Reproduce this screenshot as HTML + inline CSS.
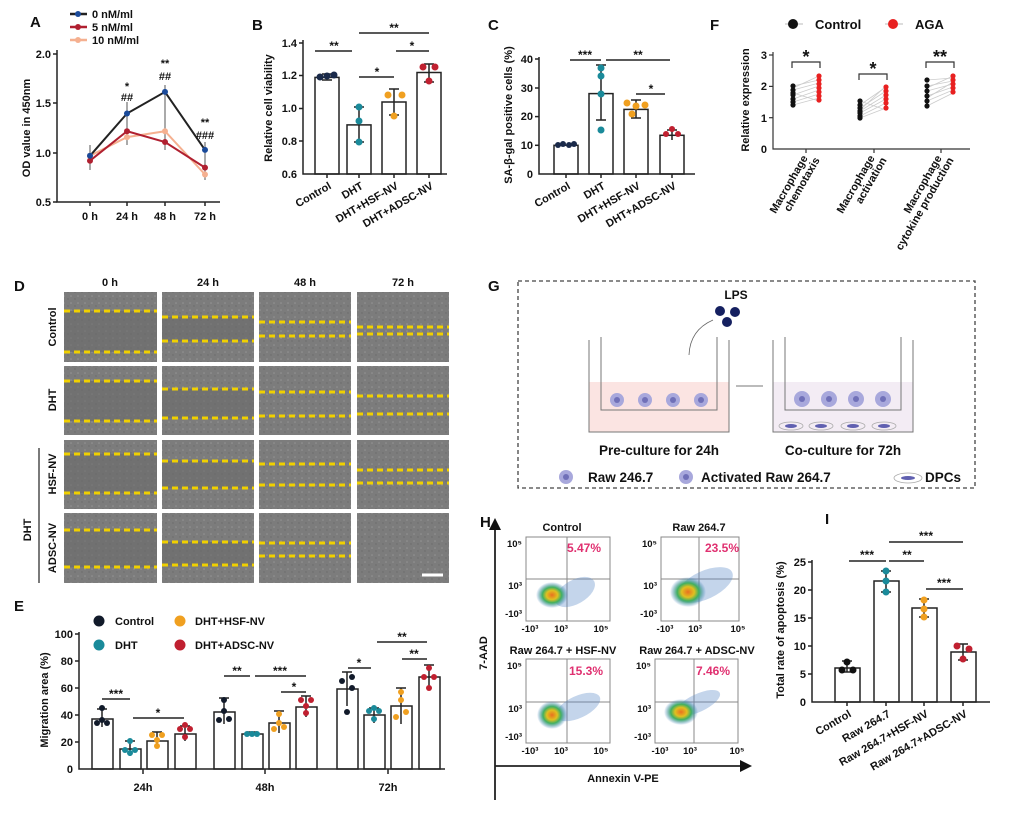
<!DOCTYPE html>
<html><head><meta charset="utf-8"><style>
html,body{margin:0;padding:0;background:#fff}
svg{display:block;font-family:"Liberation Sans",Arial,sans-serif;font-weight:bold}
</style></head><body>
<svg width="1020" height="813" viewBox="0 0 1020 813" xmlns="http://www.w3.org/2000/svg">
<defs>
<pattern id="tex" width="7" height="7" patternUnits="userSpaceOnUse"><rect width="7" height="7" fill="#7c7c7c"/><circle cx="1" cy="2" r="0.8" fill="#959595"/><circle cx="5" cy="5" r="0.7" fill="#6a6a6a"/></pattern>
<radialGradient id="blob"><stop offset="0" stop-color="#e87020"/><stop offset="0.35" stop-color="#e0c020"/><stop offset="0.6" stop-color="#40b060"/><stop offset="1" stop-color="#3070c0" stop-opacity="0"/></radialGradient>
</defs>
<g fill="#111" font-size="12">
<!-- ===== Panel A ===== -->
<text x="30" y="27" font-size="15">A</text>
<g stroke-width="2.5"><line x1="70" y1="14" x2="87" y2="14" stroke="#222"/><line x1="70" y1="27" x2="87" y2="27" stroke="#b02030"/><line x1="70" y1="40" x2="87" y2="40" stroke="#f5b090"/></g>
<circle cx="78" cy="14" r="3" fill="#1a4a9a"/><circle cx="78" cy="27" r="3" fill="#b02030"/><circle cx="78" cy="40" r="3" fill="#f5b090"/>
<text x="92" y="18" font-size="11">0 nM/ml</text><text x="92" y="31" font-size="11">5 nM/ml</text><text x="92" y="44" font-size="11">10 nM/ml</text>
<g stroke="#222" stroke-width="1.5" fill="none"><polyline points="57,50 57,202 220,202"/>
<line x1="53" y1="54" x2="57" y2="54"/><line x1="53" y1="103" x2="57" y2="103"/><line x1="53" y1="153" x2="57" y2="153"/><line x1="53" y1="202" x2="57" y2="202"/>
<line x1="90" y1="202" x2="90" y2="206"/><line x1="127" y1="202" x2="127" y2="206"/><line x1="165" y1="202" x2="165" y2="206"/><line x1="205" y1="202" x2="205" y2="206"/></g>
<g font-size="11" text-anchor="end"><text x="51" y="58">2.0</text><text x="51" y="107">1.5</text><text x="51" y="157">1.0</text><text x="51" y="206">0.5</text></g>
<g font-size="11" text-anchor="middle"><text x="90" y="220">0 h</text><text x="127" y="220">24 h</text><text x="165" y="220">48 h</text><text x="205" y="220">72 h</text></g>
<text transform="translate(30,128) rotate(-90)" text-anchor="middle" font-size="11">OD value in 450nm</text>
<g stroke="#555" stroke-width="1"><line x1="90" y1="145" x2="90" y2="170"/><line x1="127" y1="102" x2="127" y2="145"/><line x1="165" y1="85" x2="165" y2="150"/><line x1="205" y1="142" x2="205" y2="180"/></g>
<polyline points="90,155.8 127,137.1 165,131.2 205,174.5" fill="none" stroke="#f5b090" stroke-width="2"/>
<polyline points="90,160.7 127,131.2 165,142 205,167.6" fill="none" stroke="#b02030" stroke-width="2"/>
<polyline points="90,155.8 127,113.5 165,91.9 205,149.9" fill="none" stroke="#222" stroke-width="2"/>
<g fill="#f5b090"><circle cx="90" cy="155.8" r="3"/><circle cx="127" cy="137.1" r="3"/><circle cx="165" cy="131.2" r="3"/><circle cx="205" cy="174.5" r="3"/></g>
<g fill="#b02030"><circle cx="90" cy="160.7" r="3"/><circle cx="127" cy="131.2" r="3"/><circle cx="165" cy="142" r="3"/><circle cx="205" cy="167.6" r="3"/></g>
<g fill="#1a4a9a"><circle cx="90" cy="155.8" r="3"/><circle cx="127" cy="113.5" r="3"/><circle cx="165" cy="91.9" r="3"/><circle cx="205" cy="149.9" r="3"/></g>
<g text-anchor="middle" font-size="11"><text x="127" y="90">*</text><text x="127" y="101">##</text><text x="165" y="67">**</text><text x="165" y="80">##</text><text x="205" y="126">**</text><text x="205" y="139">###</text></g>

<!-- ===== Panel B ===== -->
<text x="252" y="30" font-size="15">B</text>
<g stroke="#222" stroke-width="1.5" fill="none"><polyline points="303,40 303,174 447,174"/>
<line x1="299" y1="43" x2="303" y2="43"/><line x1="299" y1="75.5" x2="303" y2="75.5"/><line x1="299" y1="108.5" x2="303" y2="108.5"/><line x1="299" y1="141" x2="303" y2="141"/>
<rect x="315" y="77.4" width="24" height="96.6"/><rect x="347" y="124.9" width="24" height="49.1"/><rect x="382" y="102" width="24" height="72"/><rect x="417" y="72.5" width="24" height="101.5"/>
<line x1="327" y1="174" x2="327" y2="178"/><line x1="359" y1="174" x2="359" y2="178"/><line x1="394" y1="174" x2="394" y2="178"/><line x1="429" y1="174" x2="429" y2="178"/>
<path d="M359 107V142M354 107h10M354 142h10M394 89V115M389 89h10M389 115h10M429 64V82M424 64h10M424 82h10M322 74h10M322 80h10"/>
<line x1="315" y1="51" x2="352" y2="51"/><line x1="359" y1="33" x2="429" y2="33"/><line x1="359" y1="77" x2="394" y2="77"/><line x1="396" y1="51" x2="429" y2="51"/></g>
<g font-size="11" text-anchor="end"><text x="297" y="47">1.4</text><text x="297" y="79">1.2</text><text x="297" y="112">1.0</text><text x="297" y="145">0.8</text><text x="297" y="178">0.6</text></g>
<text transform="translate(272,108) rotate(-90)" text-anchor="middle" font-size="11">Relative cell viability</text>
<g font-size="11" text-anchor="end"><text transform="translate(332,188) rotate(-30)">Control</text><text transform="translate(364,188) rotate(-30)">DHT</text><text transform="translate(399,188) rotate(-30)">DHT+HSF-NV</text><text transform="translate(434,188) rotate(-30)">DHT+ADSC-NV</text></g>
<g fill="#1a2a4a"><circle cx="320" cy="77" r="3.5"/><circle cx="327" cy="76" r="3.5"/><circle cx="334" cy="75" r="3.5"/></g>
<g fill="#1a8a9a"><circle cx="359" cy="107" r="3.5"/><circle cx="359" cy="121" r="3.5"/><circle cx="359" cy="142" r="3.5"/></g>
<g fill="#f0a020"><circle cx="388" cy="95" r="3.5"/><circle cx="402" cy="95" r="3.5"/><circle cx="394" cy="116" r="3.5"/></g>
<g fill="#c02030"><circle cx="423" cy="67" r="3.5"/><circle cx="435" cy="67" r="3.5"/><circle cx="429" cy="81" r="3.5"/></g>
<g text-anchor="middle" font-size="12"><text x="334" y="50">**</text><text x="394" y="32">**</text><text x="377" y="76">*</text><text x="412" y="50">*</text></g>

<!-- ===== Panel C ===== -->
<text x="488" y="30" font-size="15">C</text>
<g stroke="#222" stroke-width="1.5" fill="none"><polyline points="539,57 539,174 695,174"/>
<line x1="535" y1="59" x2="539" y2="59"/><line x1="535" y1="88" x2="539" y2="88"/><line x1="535" y1="116.6" x2="539" y2="116.6"/><line x1="535" y1="145.3" x2="539" y2="145.3"/>
<rect x="554" y="145.3" width="24" height="28.7"/><rect x="589" y="93.6" width="24" height="80.4"/><rect x="624" y="109.4" width="24" height="64.6"/><rect x="660" y="135.3" width="24" height="38.7"/>
<line x1="566" y1="174" x2="566" y2="178"/><line x1="601" y1="174" x2="601" y2="178"/><line x1="636" y1="174" x2="636" y2="178"/><line x1="672" y1="174" x2="672" y2="178"/>
<path d="M601 65V120M596 65h10M596 120h10M636 100V118M631 100h10M631 118h10M672 130V140M667 130h10"/>
<line x1="570" y1="60" x2="601" y2="60"/><line x1="606" y1="60" x2="670" y2="60"/><line x1="636" y1="94" x2="665" y2="94"/></g>
<g font-size="11" text-anchor="end"><text x="533" y="63">40</text><text x="533" y="92">30</text><text x="533" y="120">20</text><text x="533" y="149">10</text><text x="533" y="178">0</text></g>
<text transform="translate(512,115) rotate(-90)" text-anchor="middle" font-size="11">SA-β-gal positive cells (%)</text>
<g font-size="11" text-anchor="end"><text transform="translate(571,188) rotate(-30)">Control</text><text transform="translate(606,188) rotate(-30)">DHT</text><text transform="translate(641,188) rotate(-30)">DHT+HSF-NV</text><text transform="translate(677,188) rotate(-30)">DHT+ADSC-NV</text></g>
<g fill="#1a2a4a"><circle cx="558" cy="145" r="3"/><circle cx="563" cy="144" r="3"/><circle cx="569" cy="145" r="3"/><circle cx="574" cy="144" r="3"/></g>
<g fill="#1a8a9a"><circle cx="601" cy="68" r="3.5"/><circle cx="601" cy="76" r="3.5"/><circle cx="601" cy="94" r="3.5"/><circle cx="601" cy="130" r="3.5"/></g>
<g fill="#f0a020"><circle cx="627" cy="103" r="3.5"/><circle cx="645" cy="105" r="3.5"/><circle cx="636" cy="106" r="3.5"/><circle cx="632" cy="114" r="3.5"/></g>
<g fill="#c02030"><circle cx="672" cy="129" r="3"/><circle cx="666" cy="134" r="3"/><circle cx="678" cy="134" r="3"/></g>
<g text-anchor="middle" font-size="12"><text x="585" y="59">***</text><text x="638" y="59">**</text><text x="651" y="93">*</text></g>

<!-- ===== Panel F ===== -->
<text x="710" y="30" font-size="15">F</text>
<line x1="785" y1="24" x2="803" y2="24" stroke="#bbb"/><circle cx="793" cy="24" r="5" fill="#111"/><text x="815" y="29" font-size="13">Control</text>
<line x1="885" y1="24" x2="903" y2="24" stroke="#bbb"/><circle cx="893" cy="24" r="5" fill="#e82020"/><text x="915" y="29" font-size="13">AGA</text>
<g stroke="#333" stroke-width="1.2" fill="none"><polyline points="773,52 773,149 970,149"/>
<line x1="769" y1="55" x2="773" y2="55"/><line x1="769" y1="86.4" x2="773" y2="86.4"/><line x1="769" y1="117.7" x2="773" y2="117.7"/>
<line x1="806" y1="149" x2="806" y2="153"/><line x1="874" y1="149" x2="874" y2="153"/><line x1="941" y1="149" x2="941" y2="153"/>
<path d="M792 68V62H820V68M859 80V74H887V80M926 68V62H954V68"/></g>
<g font-size="11" text-anchor="end"><text x="767" y="59">3</text><text x="767" y="90">2</text><text x="767" y="122">1</text><text x="767" y="153">0</text></g>
<text transform="translate(749,100) rotate(-90)" text-anchor="middle" font-size="11">Relative expression</text>
<g stroke="#ccc" stroke-width="0.8">
<line x1="793" y1="86" x2="819" y2="80"/><line x1="793" y1="90" x2="819" y2="83"/><line x1="793" y1="95" x2="819" y2="86"/><line x1="793" y1="99" x2="819" y2="90"/><line x1="793" y1="102" x2="819" y2="94"/><line x1="793" y1="105" x2="819" y2="98"/><line x1="793" y1="93" x2="819" y2="101"/><line x1="793" y1="88" x2="819" y2="76"/>
<line x1="860" y1="105" x2="886" y2="87"/><line x1="860" y1="108" x2="886" y2="91"/><line x1="860" y1="111" x2="886" y2="95"/><line x1="860" y1="113" x2="886" y2="99"/><line x1="860" y1="116" x2="886" y2="103"/><line x1="860" y1="118" x2="886" y2="108"/><line x1="860" y1="101" x2="886" y2="110"/><line x1="860" y1="110" x2="886" y2="86"/>
<line x1="927" y1="80" x2="953" y2="78"/><line x1="927" y1="86" x2="953" y2="81"/><line x1="927" y1="91" x2="953" y2="84"/><line x1="927" y1="96" x2="953" y2="87"/><line x1="927" y1="101" x2="953" y2="90"/><line x1="927" y1="106" x2="953" y2="93"/><line x1="927" y1="88" x2="953" y2="76"/><line x1="927" y1="98" x2="953" y2="82"/></g>
<g fill="#111"><circle cx="793" cy="86" r="2.6"/><circle cx="793" cy="90" r="2.6"/><circle cx="793" cy="95" r="2.6"/><circle cx="793" cy="99" r="2.6"/><circle cx="793" cy="102" r="2.6"/><circle cx="793" cy="105" r="2.6"/><circle cx="793" cy="93" r="2.6"/>
<circle cx="860" cy="105" r="2.6"/><circle cx="860" cy="108" r="2.6"/><circle cx="860" cy="111" r="2.6"/><circle cx="860" cy="113" r="2.6"/><circle cx="860" cy="116" r="2.6"/><circle cx="860" cy="118" r="2.6"/><circle cx="860" cy="101" r="2.6"/>
<circle cx="927" cy="80" r="2.6"/><circle cx="927" cy="86" r="2.6"/><circle cx="927" cy="91" r="2.6"/><circle cx="927" cy="96" r="2.6"/><circle cx="927" cy="101" r="2.6"/><circle cx="927" cy="106" r="2.6"/></g>
<g fill="#e82020"><circle cx="819" cy="76" r="2.6"/><circle cx="819" cy="80" r="2.6"/><circle cx="819" cy="84" r="2.6"/><circle cx="819" cy="88" r="2.6"/><circle cx="819" cy="92" r="2.6"/><circle cx="819" cy="96" r="2.6"/><circle cx="819" cy="100" r="2.6"/>
<circle cx="886" cy="87" r="2.6"/><circle cx="886" cy="91" r="2.6"/><circle cx="886" cy="95" r="2.6"/><circle cx="886" cy="99" r="2.6"/><circle cx="886" cy="103" r="2.6"/><circle cx="886" cy="108" r="2.6"/>
<circle cx="953" cy="76" r="2.6"/><circle cx="953" cy="80" r="2.6"/><circle cx="953" cy="84" r="2.6"/><circle cx="953" cy="88" r="2.6"/><circle cx="953" cy="92" r="2.6"/></g>
<g text-anchor="middle" font-size="18"><text x="806" y="63">*</text><text x="873" y="75">*</text><text x="940" y="63">**</text></g>
<g font-size="11" text-anchor="end"><text transform="translate(808,158) rotate(-60)">Macrophage</text><text transform="translate(820,160) rotate(-60)">chemotaxis</text>
<text transform="translate(875,158) rotate(-60)">Macrophage</text><text transform="translate(887,160) rotate(-60)">activation</text>
<text transform="translate(942,158) rotate(-60)">Macrophage</text><text transform="translate(954,160) rotate(-60)">cytokine production</text></g>

<!-- ===== Panel D ===== -->
<text x="14" y="291" font-size="15">D</text>
<g text-anchor="middle" font-size="11"><text x="110" y="286">0 h</text><text x="208" y="286">24 h</text><text x="305" y="286">48 h</text><text x="403" y="286">72 h</text></g>
<g fill="url(#tex)">
<rect x="64" y="292" width="93" height="70"/><rect x="162" y="292" width="92" height="70"/><rect x="259" y="292" width="92" height="70"/><rect x="357" y="292" width="92" height="70"/>
<rect x="64" y="366" width="93" height="69"/><rect x="162" y="366" width="92" height="69"/><rect x="259" y="366" width="92" height="69"/><rect x="357" y="366" width="92" height="69"/>
<rect x="64" y="440" width="93" height="69"/><rect x="162" y="440" width="92" height="69"/><rect x="259" y="440" width="92" height="69"/><rect x="357" y="440" width="92" height="69"/>
<rect x="64" y="513" width="93" height="70"/><rect x="162" y="513" width="92" height="70"/><rect x="259" y="513" width="92" height="70"/><rect x="357" y="513" width="92" height="70"/></g>
<g fill="#6a6a6a" opacity="0.6"><rect x="64" y="311" width="93" height="41"/><rect x="64" y="381" width="93" height="40"/><rect x="64" y="454" width="93" height="39"/><rect x="64" y="530" width="93" height="37"/>
<rect x="162" y="317" width="92" height="24"/><rect x="162" y="389" width="92" height="29"/><rect x="162" y="461" width="92" height="27"/><rect x="162" y="542" width="92" height="23"/></g>
<g stroke="#f0d000" stroke-width="3" stroke-dasharray="6,4">
<path d="M64 311h93M64 352h93M162 317h92M162 341h92M259 322h92M259 336h92M357 327h92M357 334h92"/>
<path d="M64 381h93M64 421h93M162 389h92M162 418h92M259 392h92M259 416h92M357 396h92M357 414h92"/>
<path d="M64 454h93M64 493h93M162 461h92M162 488h92M259 464h92M259 485h92M357 470h92M357 483h92"/>
<path d="M64 530h93M64 567h93M162 542h92M162 565h92M259 543h92M259 556h92"/></g>
<line x1="422" y1="575" x2="443" y2="575" stroke="#fff" stroke-width="3"/>
<g font-size="11" text-anchor="middle"><text transform="translate(56,327) rotate(-90)">Control</text><text transform="translate(56,400) rotate(-90)">DHT</text><text transform="translate(56,474) rotate(-90)">HSF-NV</text><text transform="translate(56,548) rotate(-90)">ADSC-NV</text><text transform="translate(31,530) rotate(-90)">DHT</text></g>
<line x1="39" y1="448" x2="39" y2="583" stroke="#222" stroke-width="1.2"/>

<!-- ===== Panel E ===== -->
<text x="14" y="611" font-size="15">E</text>
<circle cx="99" cy="621" r="5.5" fill="#111a2a"/><text x="115" y="625" font-size="11">Control</text>
<circle cx="99" cy="645" r="5.5" fill="#1a8a9a"/><text x="115" y="649" font-size="11">DHT</text>
<circle cx="180" cy="621" r="5.5" fill="#f0a020"/><text x="195" y="625" font-size="11">DHT+HSF-NV</text>
<circle cx="180" cy="645" r="5.5" fill="#c02030"/><text x="195" y="649" font-size="11">DHT+ADSC-NV</text>
<g stroke="#222" stroke-width="1.5" fill="none"><polyline points="79,632 79,769 445,769"/>
<line x1="75" y1="634" x2="79" y2="634"/><line x1="75" y1="661" x2="79" y2="661"/><line x1="75" y1="688" x2="79" y2="688"/><line x1="75" y1="715" x2="79" y2="715"/><line x1="75" y1="742" x2="79" y2="742"/>
<line x1="143" y1="769" x2="143" y2="774"/><line x1="265" y1="769" x2="265" y2="774"/><line x1="388" y1="769" x2="388" y2="774"/>
<rect x="92" y="719" width="21" height="50"/><rect x="120" y="749" width="21" height="20"/><rect x="147" y="741" width="21" height="28"/><rect x="175" y="734" width="21" height="35"/>
<rect x="214" y="712" width="21" height="57"/><rect x="242" y="734" width="21" height="35"/><rect x="269" y="723" width="21" height="46"/><rect x="296" y="707" width="21" height="62"/>
<rect x="337" y="689" width="21" height="80"/><rect x="364" y="715" width="21" height="54"/><rect x="391" y="706" width="21" height="63"/><rect x="419" y="677" width="21" height="92"/>
<path d="M102 709V727M130 741V756M157 732V748M185 726V741M224 698V724M252 732V736M279 711V733M306 696V717M347 672V706M374 708V723M401 688V724M429 665V690"/>
<path d="M97 709h10M125 741h10M152 732h10M180 726h10M219 698h10M247 732h10M274 711h10M301 696h10M342 672h10M369 708h10M396 688h10M424 665h10"/>
<line x1="102" y1="699" x2="130" y2="699"/><line x1="133" y1="718" x2="184" y2="718"/><line x1="224" y1="676" x2="250" y2="676"/><line x1="255" y1="676" x2="306" y2="676"/><line x1="281" y1="692" x2="306" y2="692"/><line x1="348" y1="668" x2="371" y2="668"/><line x1="377" y1="642" x2="427" y2="642"/><line x1="402" y1="659" x2="427" y2="659"/></g>
<g font-size="11" text-anchor="end"><text x="73" y="638">100</text><text x="73" y="665">80</text><text x="73" y="692">60</text><text x="73" y="719">40</text><text x="73" y="746">20</text><text x="73" y="773">0</text></g>
<text transform="translate(48,700) rotate(-90)" text-anchor="middle" font-size="11">Migration area (%)</text>
<g font-size="11" text-anchor="middle"><text x="143" y="791">24h</text><text x="265" y="791">48h</text><text x="388" y="791">72h</text></g>
<g text-anchor="middle" font-size="12"><text x="116" y="698">***</text><text x="158" y="717">*</text><text x="237" y="675">**</text><text x="280" y="675">***</text><text x="294" y="691">*</text><text x="359" y="667">*</text><text x="402" y="641">**</text><text x="414" y="658">**</text></g>
<g fill="#111a2a"><circle cx="97" cy="723" r="3"/><circle cx="107" cy="723" r="3"/><circle cx="102" cy="708" r="3"/><circle cx="102" cy="720" r="3"/><circle cx="219" cy="720" r="3"/><circle cx="229" cy="719" r="3"/><circle cx="224" cy="700" r="3"/><circle cx="224" cy="711" r="3"/><circle cx="342" cy="681" r="3"/><circle cx="352" cy="677" r="3"/><circle cx="352" cy="688" r="3"/><circle cx="347" cy="712" r="3"/></g>
<g fill="#1a8a9a"><circle cx="125" cy="750" r="3"/><circle cx="135" cy="750" r="3"/><circle cx="130" cy="741" r="3"/><circle cx="130" cy="753" r="3"/><circle cx="247" cy="734" r="3"/><circle cx="252" cy="734" r="3"/><circle cx="257" cy="734" r="3"/><circle cx="369" cy="711" r="3"/><circle cx="379" cy="711" r="3"/><circle cx="374" cy="719" r="3"/><circle cx="374" cy="708" r="3"/></g>
<g fill="#f0a020"><circle cx="152" cy="735" r="3"/><circle cx="162" cy="735" r="3"/><circle cx="157" cy="746" r="3"/><circle cx="157" cy="740" r="3"/><circle cx="274" cy="729" r="3"/><circle cx="284" cy="727" r="3"/><circle cx="279" cy="714" r="3"/><circle cx="279" cy="723" r="3"/><circle cx="396" cy="717" r="3"/><circle cx="406" cy="712" r="3"/><circle cx="401" cy="692" r="3"/><circle cx="401" cy="700" r="3"/></g>
<g fill="#c02030"><circle cx="180" cy="729" r="3"/><circle cx="190" cy="729" r="3"/><circle cx="185" cy="737" r="3"/><circle cx="185" cy="725" r="3"/><circle cx="301" cy="700" r="3"/><circle cx="311" cy="700" r="3"/><circle cx="306" cy="713" r="3"/><circle cx="306" cy="706" r="3"/><circle cx="424" cy="677" r="3"/><circle cx="434" cy="677" r="3"/><circle cx="429" cy="668" r="3"/><circle cx="429" cy="688" r="3"/></g>

<!-- ===== Panel G ===== -->
<text x="488" y="291" font-size="15">G</text>
<rect x="518" y="281" width="457" height="207" fill="none" stroke="#444" stroke-width="1.3" stroke-dasharray="4,3"/>
<text x="736" y="299" font-size="12" text-anchor="middle">LPS</text>
<g fill="#152060"><circle cx="720" cy="311" r="5"/><circle cx="735" cy="312" r="5"/><circle cx="727" cy="322" r="5"/></g>
<path d="M713 320 Q690 330 689 355" fill="none" stroke="#666" stroke-width="0.8"/>
<rect x="589" y="382" width="140" height="50" fill="#fbe4e2"/>
<rect x="773" y="382" width="140" height="50" fill="#f3ecf4"/>
<g fill="none" stroke="#777" stroke-width="1"><path d="M589 340V432H729V340M601 337V410H717V337"/><path d="M773 340V432H913V340M785 337V410H901V337"/><path d="M601 410H717M785 410H901" stroke-dasharray="3,2"/><path d="M736 386H763"/></g>
<g fill="#a8a8dc"><circle cx="617" cy="400" r="7"/><circle cx="645" cy="400" r="7"/><circle cx="673" cy="400" r="7"/><circle cx="701" cy="400" r="7"/>
<circle cx="802" cy="399" r="8"/><circle cx="829" cy="399" r="8"/><circle cx="856" cy="399" r="8"/><circle cx="883" cy="399" r="8"/><circle cx="566" cy="477" r="7"/><circle cx="686" cy="477" r="7"/></g>
<g fill="#7070b8"><circle cx="617" cy="400" r="3"/><circle cx="645" cy="400" r="3"/><circle cx="673" cy="400" r="3"/><circle cx="701" cy="400" r="3"/><circle cx="802" cy="399" r="3"/><circle cx="829" cy="399" r="3"/><circle cx="856" cy="399" r="3"/><circle cx="883" cy="399" r="3"/><circle cx="566" cy="477" r="3"/><circle cx="686" cy="477" r="3"/></g>
<g fill="none" stroke="#aaa" stroke-width="0.8"><ellipse cx="791" cy="426" rx="12" ry="4"/><ellipse cx="821" cy="426" rx="12" ry="4"/><ellipse cx="853" cy="426" rx="12" ry="4"/><ellipse cx="884" cy="426" rx="12" ry="4"/><ellipse cx="908" cy="478" rx="14" ry="5"/></g>
<g fill="#6060b0"><ellipse cx="791" cy="426" rx="6" ry="2"/><ellipse cx="821" cy="426" rx="6" ry="2"/><ellipse cx="853" cy="426" rx="6" ry="2"/><ellipse cx="884" cy="426" rx="6" ry="2"/><ellipse cx="908" cy="478" rx="7" ry="2"/></g>
<text x="659" y="455" font-size="13.5" text-anchor="middle">Pre-culture for 24h</text>
<text x="843" y="455" font-size="13.5" text-anchor="middle">Co-culture for 72h</text>
<text x="588" y="482" font-size="13.5">Raw 246.7</text><text x="701" y="482" font-size="13.5">Activated Raw 264.7</text><text x="925" y="482" font-size="13.5">DPCs</text>

<!-- ===== Panel H ===== -->
<text x="480" y="527" font-size="15">H</text>
<g stroke="#222" stroke-width="1.8" fill="none"><path d="M495 800V525M495 766H744"/></g>
<path d="M489 530L495 518L501 530Z M740 760L752 766L740 772Z" fill="#111"/>
<text transform="translate(487,653) rotate(-90)" text-anchor="middle" font-size="11">7-AAD</text>
<text x="623" y="782" text-anchor="middle" font-size="11">Annexin V-PE</text>
<g font-size="11" text-anchor="middle"><text x="562" y="531">Control</text><text x="699" y="531">Raw 264.7</text><text x="563" y="654">Raw 264.7 + HSF-NV</text><text x="697" y="654">Raw 264.7 + ADSC-NV</text></g>
<g fill="none" stroke="#888" stroke-width="1"><rect x="526" y="537" width="84" height="84"/><rect x="661" y="537" width="78" height="84"/><rect x="526" y="659" width="84" height="84"/><rect x="655" y="659" width="83" height="84"/>
<path d="M567 537V621M526 579H610M699 537V621M661 579H739M567 659V743M526 702H610M694 659V743M655 702H738"/></g>
<g fill="#5a8ac8" opacity="0.35"><ellipse cx="575" cy="592" rx="22" ry="12" transform="rotate(-30 575 592)"/><ellipse cx="705" cy="585" rx="30" ry="14" transform="rotate(-25 705 585)"/><ellipse cx="578" cy="707" rx="24" ry="11" transform="rotate(-25 578 707)"/><ellipse cx="698" cy="703" rx="24" ry="9" transform="rotate(-25 698 703)"/></g>
<g fill="url(#blob)"><ellipse cx="552" cy="595" rx="16" ry="13"/><ellipse cx="688" cy="592" rx="18" ry="15"/><ellipse cx="552" cy="715" rx="15" ry="14"/><ellipse cx="681" cy="712" rx="17" ry="13"/></g>
<g font-size="12" fill="#e03070"><text x="567" y="552">5.47%</text><text x="705" y="552">23.5%</text><text x="569" y="675">15.3%</text><text x="696" y="675">7.46%</text></g>
<g font-size="9.5" text-anchor="end"><text x="522" y="547">10⁵</text><text x="522" y="589">10³</text><text x="522" y="617">-10³</text><text x="657" y="547">10⁵</text><text x="657" y="589">10³</text><text x="657" y="617">-10³</text>
<text x="522" y="669">10⁵</text><text x="522" y="712">10³</text><text x="522" y="740">-10³</text><text x="651" y="669">10⁵</text><text x="651" y="712">10³</text><text x="651" y="740">-10³</text></g>
<g font-size="9.5" text-anchor="middle"><text x="530" y="632">-10³</text><text x="561" y="632">10³</text><text x="601" y="632">10⁵</text><text x="665" y="632">-10³</text><text x="695" y="632">10³</text><text x="738" y="632">10⁵</text>
<text x="530" y="754">-10³</text><text x="561" y="754">10³</text><text x="601" y="754">10⁵</text><text x="660" y="754">-10³</text><text x="690" y="754">10³</text><text x="737" y="754">10⁵</text></g>

<!-- ===== Panel I ===== -->
<text x="825" y="524" font-size="15">I</text>
<g stroke="#222" stroke-width="1.5" fill="none"><polyline points="812,560 812,702 990,702"/>
<line x1="808" y1="562" x2="812" y2="562"/><line x1="808" y1="590" x2="812" y2="590"/><line x1="808" y1="618" x2="812" y2="618"/><line x1="808" y1="646" x2="812" y2="646"/><line x1="808" y1="674" x2="812" y2="674"/>
<rect x="835" y="668" width="25" height="34"/><rect x="874" y="581" width="25" height="121"/><rect x="912" y="608" width="25" height="94"/><rect x="951" y="652" width="25" height="50"/>
<line x1="847" y1="702" x2="847" y2="706"/><line x1="886" y1="702" x2="886" y2="706"/><line x1="924" y1="702" x2="924" y2="706"/><line x1="963" y1="702" x2="963" y2="706"/>
<path d="M847 661V672M842 661h10M842 672h10M886 571V592M881 571h10M881 592h10M924 599V617M919 599h10M919 617h10M963 644V660M958 644h10M958 660h10"/>
<line x1="849" y1="561" x2="886" y2="561"/><line x1="889" y1="561" x2="924" y2="561"/><line x1="889" y1="542" x2="963" y2="542"/><line x1="926" y1="589" x2="963" y2="589"/></g>
<g font-size="11" text-anchor="end"><text x="806" y="566">25</text><text x="806" y="594">20</text><text x="806" y="622">15</text><text x="806" y="650">10</text><text x="806" y="678">5</text><text x="806" y="706">0</text></g>
<text transform="translate(784,630) rotate(-90)" text-anchor="middle" font-size="11">Total rate of apoptosis (%)</text>
<g font-size="11" text-anchor="end"><text transform="translate(852,716) rotate(-30)">Control</text><text transform="translate(891,716) rotate(-30)">Raw 264.7</text><text transform="translate(929,716) rotate(-30)">Raw 264.7+HSF-NV</text><text transform="translate(968,716) rotate(-30)">Raw 264.7+ADSC-NV</text></g>
<g fill="#111"><circle cx="847" cy="662" r="3.5"/><circle cx="842" cy="670" r="3.5"/><circle cx="853" cy="670" r="3.5"/></g>
<g fill="#1a8a9a"><circle cx="886" cy="571" r="3.5"/><circle cx="886" cy="581" r="3.5"/><circle cx="886" cy="592" r="3.5"/></g>
<g fill="#f0a020"><circle cx="924" cy="600" r="3.5"/><circle cx="924" cy="609" r="3.5"/><circle cx="924" cy="617" r="3.5"/></g>
<g fill="#c02030"><circle cx="957" cy="646" r="3.5"/><circle cx="969" cy="649" r="3.5"/><circle cx="963" cy="659" r="3.5"/></g>
<g text-anchor="middle" font-size="12"><text x="867" y="559">***</text><text x="907" y="559">**</text><text x="926" y="540">***</text><text x="944" y="587">***</text></g>
</g>
</svg>
</body></html>
